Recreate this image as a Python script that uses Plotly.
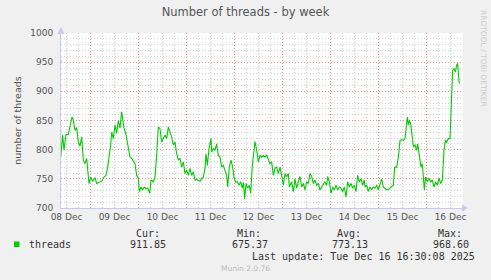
import pandas as pd
import plotly.graph_objects as go

# ---- data ----
hours = [9.08,10.08,10.75,11.75,12.92,13.75,14.75,15.42,16.25,17.08,17.92,18.75,19.58,20.42,21.25,22.08,23.25,24.08,25.08,26.25,27.08,28.42,29.58,30.75,31.75,32.58,33.42,34.08,34.58,35.42,36.25,37.08,37.92,38.75,39.58,40.08,40.75,41.75,42.92,43.75,44.58,45.42,46.25,47.08,47.92,48.42,
         49.25,49.92,50.92,51.75,52.58,53.58,54.25,55.42,56.25,57.08,57.92,58.75,59.58,60.42,61.25,62.08,62.92,63.75,64.58,65.42,66.25,67.08,67.92,68.75,69.58,70.42,71.25,72.08,72.92,73.75,74.58,75.42,76.25,77.08,77.92,78.75,79.58,80.42,81.25,81.75,82.42,83.25,84.25,
         84.58,85.42,86.25,87.08,87.92,88.75,89.58,90.42,91.25,92.08,92.58,93.42,94.25,95.08,95.75,96.58,97.42,98.25,99.08,99.92,100.42,101.08,101.75,102.58,103.42,104.08,104.92,105.75,106.25,107.08,107.92,108.75,109.58,110.42,111.25,112.08,112.92,113.75,114.58,115.42,116.25,117.08,117.92,118.75,119.58,120.42,121.25,122.08,122.92,123.42,
         124.58,125.42,126.25,127.08,127.92,128.75,129.58,130.42,131.25,132.08,132.92,133.75,134.58,135.42,136.25,137.08,137.92,138.75,139.58,140.42,141.25,142.08,142.58,143.42,144.25,145.08,145.92,146.75,147.58,148.42,149.25,150.08,150.92,151.75,152.58,153.42,154.25,155.08,155.92,156.75,157.58,158.42,159.25,160.08,160.92,
         161.25,162.08,162.92,163.75,164.58,165.42,166.25,167.08,167.92,168.75,169.58,170.42,171.25,172.08,172.92,173.75,174.58,175.42,176.08,177.08,177.92,178.75,179.58,180.42,181.25,181.75,182.42,182.92,183.42,184.08,184.75,185.42,186.25,187.08,187.58,188.42,189.25,189.92,190.42,190.92,191.58,192.42,193.25,194.08,194.92,195.75,196.58,197.42,198.25,199.08,199.92,200.75,201.42,202.08,202.92,203.75,204.42,205.08,205.75,206.42,207.08,207.58,208.08,208.42]
threads = [787,825,799,826,826,842,856,851,833,838,813,806,822,782,776,785,742,753,746,752,742,744,746,753,756,770,790,808,830,819,842,828,850,837,865,854,837,826,806,787,785,779,776,756,751,728,
           736,731,736,733,734,725,748,745,753,790,839,836,813,819,825,819,839,830,822,808,813,793,782,785,770,779,759,765,756,768,756,762,748,749,748,746,751,753,768,793,773,802,819,
           796,802,799,810,790,787,770,773,765,756,736,770,782,770,753,744,745,739,745,734,744,716,742,734,739,725,773,802,814,799,779,790,787,790,787,791,782,776,779,756,768,770,759,770,756,739,759,753,759,736,
           745,728,750,734,745,754,736,742,731,745,742,759,754,742,748,739,742,731,736,742,745,739,754,745,725,736,731,739,731,736,734,728,736,719,745,736,742,734,739,728,756,745,750,739,748,
           736,739,728,736,731,736,734,739,731,739,750,736,734,731,732,734,736,739,770,770,787,816,817,816,819,839,856,842,850,845,828,805,808,799,810,787,770,776,748,731,753,745,751,745,748,736,745,739,751,742,748,799,816,813,819,819,879,936,939,933,945,948,925,913]

series_name = "threads"
stat_labels = ["Cur:", "Min:", "Avg:", "Max:"]
stat_values = ["911.85", "675.37", "773.13", "968.60"]
last_update = "Last update: Tue Dec 16 16:30:08 2025"
start = pd.Timestamp("2025-12-08 00:00:00")
x_range_hours = [9.25, 210.25]
y_range = [700, 1000]

times = start + pd.to_timedelta(hours, unit="h")
xr = [start + pd.Timedelta(hours=h) for h in x_range_hours]

SANS = "DejaVu Sans"
MONO = "DejaVu Sans Mono"
W, H = 491, 280
L, R, T, B = 61, 28, 33, 72
pw, ph = W - L - R, H - T - B
MAJOR = "#f08c8c"
MINOR = "#d2d2d2"
DOTS = "1px,2px"

def px(xp):
    return (xp - L) / pw

def py(yp):
    return (H - B - yp) / ph

fig = go.Figure()
fig.add_trace(go.Scatter(x=times, y=threads, mode="lines", name=series_name,
                         line=dict(color="#00cc00", width=1.1), showlegend=False,
                         hoverinfo="skip"))

fig.update_layout(
    width=W, height=H,
    margin=dict(l=L, r=R, t=T, b=B, pad=0),
    paper_bgcolor="#f0f0f0", plot_bgcolor="#ffffff",
    title=dict(text="Number of threads - by week", x=0.5, xref="container",
               y=1 - 12 / H, yref="container", xanchor="center", yanchor="middle",
               font=dict(family=SANS, size=11.5, color="#555555")),
    font=dict(family=SANS, color="#555555"),
)
fig.update_xaxes(
    type="date", range=xr, showline=True, linecolor="#c8c8f0", linewidth=1,
    tick0=start, dtick=86400000, ticklabelmode="period", tickformat="%d %b",
    ticks="", tickfont=dict(family=SANS, size=9, color="#555555"),
    showgrid=True, gridcolor=MAJOR, griddash=DOTS, gridwidth=1,
    minor=dict(dtick=6 * 3600000, tick0=start, showgrid=True, gridcolor=MINOR,
               griddash=DOTS, gridwidth=1, ticks=""),
    zeroline=False, fixedrange=True,
)
fig.update_yaxes(
    range=y_range, showline=True, linecolor="#c8c8f0", linewidth=1,
    tick0=700, dtick=50, ticks="", ticklabelstandoff=5,
    tickfont=dict(family=SANS, size=9, color="#555555"),
    showgrid=True, gridcolor=MAJOR, griddash=DOTS, gridwidth=1,
    minor=dict(dtick=10, showgrid=True, gridcolor=MINOR, griddash=DOTS,
               gridwidth=1, ticks=""),
    title=dict(text="number of threads", font=dict(family=SANS, size=9.5, color="#555555"),
               standoff=6),
    zeroline=False, fixedrange=True,
)

# axis arrows (small triangles)
fig.add_shape(type="path", xref="paper", yref="paper", layer="above",
              path=f"M {px(57.5)} {py(34)} L {px(64.5)} {py(34)} L {px(61)} {py(27)} Z",
              fillcolor="#c8c8f0", line=dict(width=0))
fig.add_shape(type="path", xref="paper", yref="paper", layer="above",
              path=f"M {px(462)} {py(204.5)} L {px(462)} {py(211.5)} L {px(468)} {py(208)} Z",
              fillcolor="#c8c8f0", line=dict(width=0))

# legend block
fig.add_shape(type="rect", xref="paper", yref="paper",
              x0=px(14), x1=px(19.5), y0=py(247), y1=py(241.5),
              fillcolor="#00cc00", line=dict(width=0))
fig.add_annotation(text=series_name, x=px(27), y=py(244), xref="paper", yref="paper",
                   xanchor="left", yanchor="middle", showarrow=False,
                   font=dict(family=MONO, size=10, color="#333333"))
label_right = [162, 263, 363, 464]
value_right = [168, 270, 370, 471]
for lab, val, lr, vr in zip(stat_labels, stat_values, label_right, value_right):
    fig.add_annotation(text=lab, x=px(lr), y=py(233), xref="paper", yref="paper",
                       xanchor="right", yanchor="middle", showarrow=False,
                       font=dict(family=MONO, size=10, color="#333333"))
    fig.add_annotation(text=val, x=px(vr), y=py(244), xref="paper", yref="paper",
                       xanchor="right", yanchor="middle", showarrow=False,
                       font=dict(family=MONO, size=10, color="#333333"))
fig.add_annotation(text=last_update, x=px(477), y=py(256), xref="paper", yref="paper",
                   xanchor="right", yanchor="middle", showarrow=False,
                   font=dict(family=MONO, size=10, color="#333333"))
fig.add_annotation(text="Munin 2.0.76", x=px(245), y=py(268), xref="paper", yref="paper",
                   xanchor="center", yanchor="middle", showarrow=False,
                   font=dict(family=SANS, size=7.5, color="#bbbbbb"))
fig.add_annotation(text="RRDTOOL / TOBI OETIKER", x=px(484), y=py(58), xref="paper", yref="paper",
                   xanchor="center", yanchor="middle", showarrow=False, textangle=90,
                   font=dict(family=SANS, size=7.5, color="#cccccc"))

fig.write_html("out.html", config={"displayModeBar": False})
